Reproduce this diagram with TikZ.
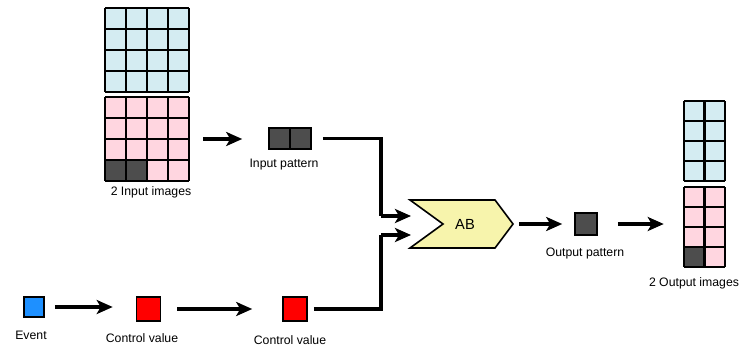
\documentclass[tikz,border=0pt]{standalone}
\usepackage{fontspec}
\setmainfont{Liberation Sans}
\usetikzlibrary{arrows.meta}
\definecolor{cellblue}{RGB}{212,236,242}
\definecolor{cellpink}{RGB}{255,214,224}
\definecolor{celldark}{RGB}{77,77,77}
\definecolor{abyellow}{RGB}{247,244,172}
\definecolor{evblue}{RGB}{30,144,255}
\definecolor{cvred}{RGB}{255,0,0}
\tikzset{
  lbl/.style={font=\fontsize{9.2}{11}\selectfont, inner sep=0pt},
  arr/.style={line width=2.3pt, -{Stealth[length=12pt, width=10.5pt, inset=3pt]}},
  conn/.style={line width=2.3pt},
  sq/.style={draw=black, line width=1.2pt, inner sep=0pt, minimum width=#1*0.75pt, minimum height=#1*0.75pt},
  gridline/.style={draw=black, line width=1.9pt},
  area/.style n args={2}{inner sep=0pt, minimum width=#1*0.75pt, minimum height=#2*0.75pt},
}
\begin{document}
\begin{tikzpicture}[x=0.75pt, y=-0.75pt]
\useasboundingbox (0,0) rectangle (752,350);

% ---------- input images ----------
\foreach \i in {0,...,3}{\foreach \j in {0,...,3}{
  \fill[cellblue] (105+21*\i, 8+21*\j) rectangle ++(21,21);
  \fill[cellpink] (105+21*\i, 97+21*\j) rectangle ++(21,21);
}}
\fill[celldark] (105,160) rectangle (147,181);
\foreach \k in {0,...,4}{
  \draw[gridline] (105+21*\k, 8) -- (105+21*\k, 92);
  \draw[gridline] (105, 8+21*\k) -- (189, 8+21*\k);
  \draw[gridline] (105+21*\k, 97) -- (105+21*\k, 181);
  \draw[gridline] (105, 97+21*\k) -- (189, 97+21*\k);
}
\node[area={84}{84}] (inpink) at (147,139) {};
\node[lbl] (inlbl) at (151,192) {2 Input images};

% ---------- input pattern ----------
\node[sq=21, fill=celldark] (ipa) at (279.5,138.5) {};
\node[sq=21, fill=celldark] (ipb) at (300.5,138.5) {};
\node[lbl] (iplbl) at (284,165) {Input pattern};

% ---------- AB ----------
\fill[abyellow, draw=black, line width=1.2pt]
  (410,200) -- (495,200) -- (513,224) -- (495,248) -- (410,248) -- (443,224) -- cycle;
\node[lbl, font=\fontsize{11}{12}\selectfont] (ab) at (465,224) {AB};
\coordinate (abin1) at (411,216);
\coordinate (abin2) at (411,235);
\coordinate (abtip) at (513,224);
\coordinate (bend1) at (381,216);
\coordinate (bend2) at (381,235);

% ---------- output pattern ----------
\node[sq=22, fill=celldark] (op) at (586,224) {};
\node[lbl] (oplbl) at (585,253) {Output pattern};

% ---------- output images ----------
\foreach \i in {0,1}{\foreach \j in {0,...,3}{
  \fill[cellblue] (684+20.5*\i, 101+20*\j) rectangle ++(20.5,20);
  \fill[cellpink] (684+20.5*\i, 187+20*\j) rectangle ++(20.5,20);
}}
\fill[celldark] (684,247) rectangle (704.5,267);
\foreach \k in {0,1,2}{
  \draw[gridline] (684+20.5*\k, 101) -- (684+20.5*\k, 181);
  \draw[gridline] (684+20.5*\k, 187) -- (684+20.5*\k, 267);
}
\foreach \k in {0,...,4}{
  \draw[gridline] (684, 101+20*\k) -- (725, 101+20*\k);
  \draw[gridline] (684, 187+20*\k) -- (725, 187+20*\k);
}
\node[area={41}{80}] (outpink) at (704.5,227) {};
\node[lbl] (outlbl) at (694,283) {2 Output images};

% ---------- control row ----------
\node[sq=20, fill=evblue] (ev) at (34,307) {};
\node[lbl] (evlbl) at (31,335) {Event};
\node[sq=24, fill=cvred] (cv1) at (148.5,309) {};
\node[lbl] (cv1lbl) at (142,338) {Control value};
\node[sq=24, fill=cvred] (cv2) at (295,309) {};
\node[lbl] (cv2lbl) at (290,340) {Control value};

% ---------- connectors ----------
\draw[arr, shorten <=14pt*0.75, shorten >=26pt*0.75] (inpink.east) -- (inpink.east -| ipa.west);
\draw[conn] ([xshift=11*0.75pt]ipb.east) -| (bend1);
\draw[arr] (bend1) -- (abin1);
\draw[conn] ([xshift=6*0.75pt]cv2.east) -| (bend2);
\draw[arr] (bend2) -- (abin2);
\draw[arr, shorten <=6pt*0.75, shorten >=12pt*0.75] (abtip) -- (op.west);
\draw[arr, shorten <=20pt*0.75, shorten >=20pt*0.75] (op.east) -- (op.east -| outpink.west);
\draw[arr, shorten <=10pt*0.75, shorten >=23pt*0.75] (ev.east) -- (ev.east -| cv1.west);
\draw[arr, shorten <=16pt*0.75, shorten >=30pt*0.75] (cv1.east) -- (cv1.east -| cv2.west);
\end{tikzpicture}
\end{document}
